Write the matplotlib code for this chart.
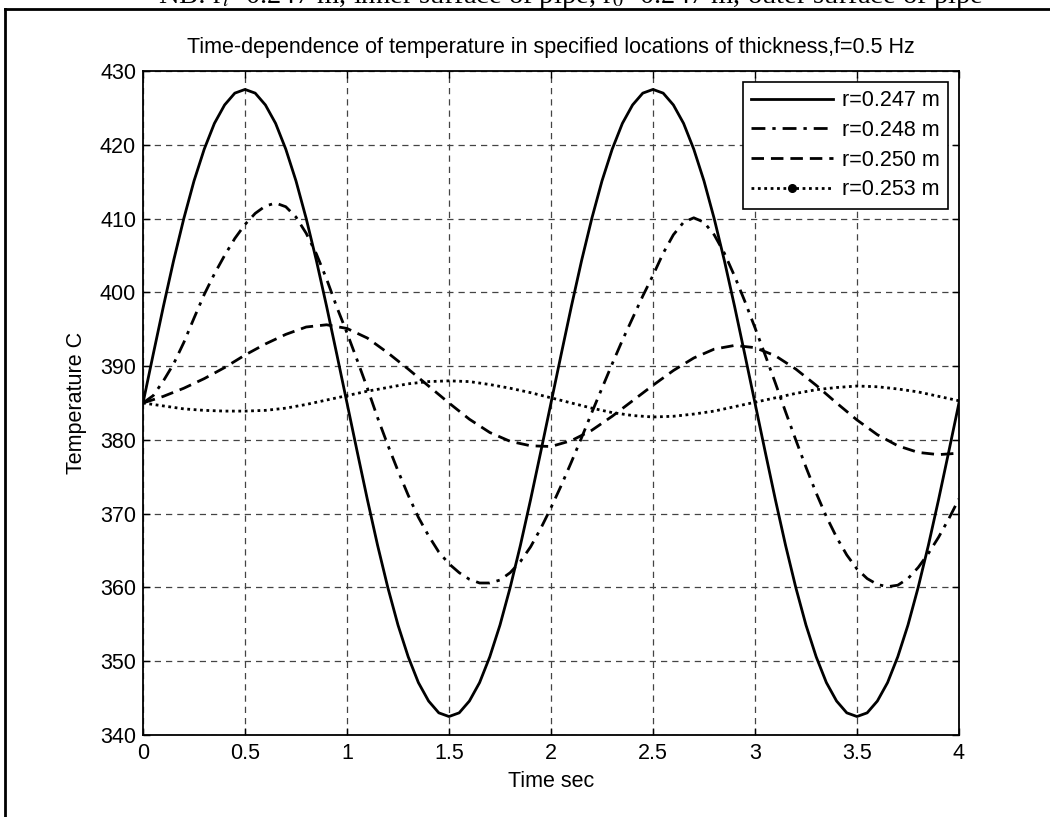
import matplotlib
matplotlib.use('Agg')
import matplotlib.pyplot as plt
from matplotlib.lines import Line2D

plt.rcParams['font.family'] = ['Liberation Sans', 'DejaVu Sans']
plt.rcParams['mathtext.fontset'] = 'stix'

# time axes (sec)
t_fine = [i * 0.05 for i in range(81)]
t_coarse = [i * 0.1 for i in range(41)]

# r=0.247 m (inner surface), read every 0.05 s
temp_247 = [385, 391.6, 398.1, 404.3, 410.0, 415.1, 419.4, 422.9, 425.4, 427.0,
            427.5, 427.0, 425.4, 422.9, 419.4, 415.1, 410.0, 404.3, 398.1, 391.6,
            385, 378.4, 371.9, 365.7, 360.0, 354.9, 350.6, 347.1, 344.6, 343.0,
            342.5, 343.0, 344.6, 347.1, 350.6, 354.9, 360.0, 365.7, 371.9, 378.4,
            385, 391.6, 398.1, 404.3, 410.0, 415.1, 419.4, 422.9, 425.4, 427.0,
            427.5, 427.0, 425.4, 422.9, 419.4, 415.1, 410.0, 404.3, 398.1, 391.6,
            385, 378.4, 371.9, 365.7, 360.0, 354.9, 350.6, 347.1, 344.6, 343.0,
            342.5, 343.0, 344.6, 347.1, 350.6, 354.9, 360.0, 365.7, 371.9, 378.4,
            385]

# r=0.248 m, read every 0.05 s
temp_248 = [385, 386, 388, 390.3, 393.2, 396.5, 399.7, 402.5, 405, 407.3,
            409.2, 410.7, 411.7, 412.1, 411.6, 410.2, 408, 405.2, 401.8, 398,
            394.5, 390.8, 387, 383, 379.3, 375.8, 372.5, 369.5, 367, 364.8,
            363.2, 362, 361.1, 360.6, 360.6, 361, 362, 363.5, 365.5, 368,
            370.8, 373.8, 377, 380.3, 383.7, 387, 390.3, 393.5, 396.5, 399.5,
            402.3, 405.3, 407.8, 409.5, 410.1, 409.5, 407.8, 405.3, 402.2, 398.8,
            395.2, 391.5, 387.7, 383.8, 380, 376.3, 372.8, 369.6, 366.8, 364.4,
            362.5, 361.2, 360.4, 360.1, 360.3, 361.2, 362.7, 364.6, 366.8, 369.3,
            372]

# r=0.250 m, read every 0.1 s
temp_250 = [385, 385.9, 387, 388.3, 389.8, 391.5, 393, 394.3, 395.3, 395.6,
            395.1, 393.8, 391.8, 389.6, 387.3, 385, 382.8, 381, 379.8, 379.2,
            379.1, 379.9, 381.3, 383.2, 385.3, 387.4, 389.4, 391.1, 392.3, 392.8,
            392.5, 391.4, 389.6, 387.4, 385, 382.7, 380.7, 379.2, 378.3, 378,
            378.2]

# r=0.253 m (outer surface), read every 0.1 s
temp_253 = [385, 384.6, 384.2, 384, 383.9, 383.9, 384, 384.3, 384.8, 385.4,
            386, 386.6, 387.1, 387.6, 387.9, 388, 387.9, 387.5, 387, 386.4,
            385.7, 385, 384.3, 383.7, 383.3, 383.1, 383.2, 383.5, 383.9, 384.5,
            385.1, 385.7, 386.3, 386.8, 387.1, 387.3, 387.2, 386.9, 386.5, 385.9,
            385.3]

labels = ['r=0.247 m', 'r=0.248 m', 'r=0.250 m', 'r=0.253 m']
x_ticks = [0, 0.5, 1, 1.5, 2, 2.5, 3, 3.5, 4]
x_ticklabels = ['0', '0.5', '1', '1.5', '2', '2.5', '3', '3.5', '4']
y_ticks = [340, 350, 360, 370, 380, 390, 400, 410, 420, 430]

fs = 15.5
dashdot = (0, (5, 2.5, 1.2, 2.5))
dashed = (0, (4.5, 2.5))
dotted = (0, (1, 1.3))

fig = plt.figure(figsize=(10.5, 8.17), dpi=100)
ax = fig.add_axes([0.1362, 0.1004, 0.7771, 0.8127])

ax.plot(t_fine, temp_247, color='black', lw=2, ls='-')
ax.plot(t_fine, temp_248, color='black', lw=2, ls=dashdot)
ax.plot(t_coarse, temp_250, color='black', lw=2, ls=dashed)
ax.plot(t_coarse, temp_253, color='black', lw=2, ls=dotted)

ax.set_xlim(0, 4)
ax.set_ylim(340, 430)
ax.set_xticks(x_ticks)
ax.set_xticklabels(x_ticklabels)
ax.set_yticks(y_ticks)
ax.tick_params(direction='in', length=5, width=1, top=True, right=True,
               labelsize=fs, colors='black')
ax.tick_params(axis='x', pad=6)
ax.tick_params(axis='y', pad=5)
for s in ax.spines.values():
    s.set_linewidth(1.3)

ax.grid(True, color='#444444', ls=(0, (5, 4)), lw=0.9)

ax.set_title('Time-dependence of temperature in specified locations of thickness,f=0.5 Hz',
             fontsize=fs, pad=13)
ax.set_xlabel('Time sec', fontsize=fs, labelpad=5)
ax.set_ylabel('Temperature C', fontsize=fs, labelpad=9)

# legend handles (dotted curve has a point marker in the legend)
handles = [
    Line2D([], [], color='black', lw=2, ls='-'),
    Line2D([], [], color='black', lw=2, ls=dashdot),
    Line2D([], [], color='black', lw=2, ls=dashed),
    Line2D([], [], color='black', lw=2, ls=dotted, marker='.', markersize=11),
]
leg = ax.legend(handles, labels, loc='upper right', fontsize=fs, handlelength=3.8,
                fancybox=False, framealpha=1, edgecolor='black', borderaxespad=0.5,
                labelspacing=0.4, handletextpad=0.4, borderpad=0.4)
leg.get_frame().set_linewidth(1.2)

# outer document frame and the clipped note above it
fig.add_artist(Line2D([5 / 1050, 1], [1 - 9 / 817, 1 - 9 / 817], color='black', lw=2,
                      transform=fig.transFigure))
fig.add_artist(Line2D([5 / 1050, 5 / 1050], [0, 1 - 9 / 817], color='black', lw=2,
                      transform=fig.transFigure))
fig.text(571 / 1050, 1 - 3 / 817,
         'NB: r$_i$=0.247 m, inner surface of pipe, r$_0$=0.247 m, outer surface of pipe',
         ha='center', va='baseline', fontsize=20.5, family='Liberation Serif')

fig.savefig('out.png', dpi=100)
